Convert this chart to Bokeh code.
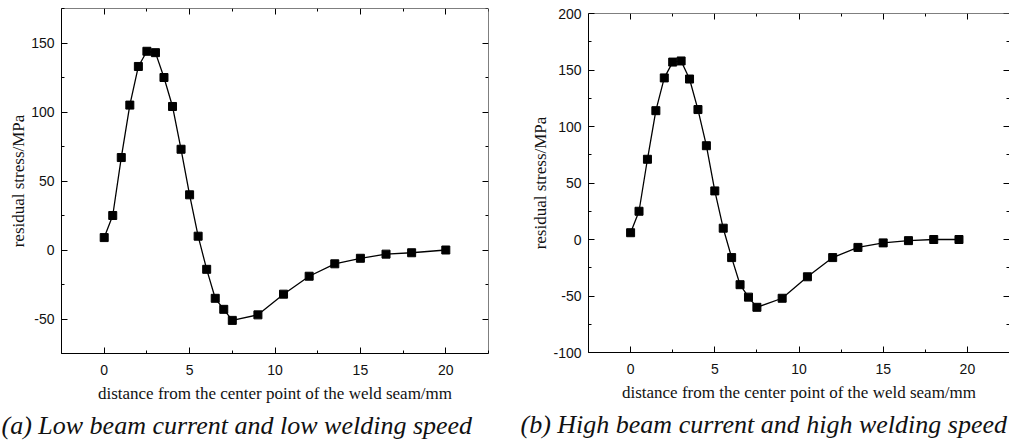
from bokeh.plotting import figure
from bokeh.layouts import row
from bokeh.models import LinearAxis, FixedTicker, Range1d, Title
from bokeh.embed import file_html
from bokeh.resources import INLINE

# ---- data ----
x_a = [0, 0.5, 1, 1.5, 2, 2.5, 3, 3.5, 4, 4.5, 5, 5.5, 6, 6.5, 7, 7.5, 9, 10.5, 12, 13.5, 15, 16.5, 18, 20]
y_a = [9, 25, 67, 105, 133, 144, 143, 125, 104, 73, 40, 10, -14, -35, -43, -51, -47, -32, -19, -10, -6, -3, -2, 0]

x_b = [0, 0.5, 1, 1.5, 2, 2.5, 3, 3.5, 4, 4.5, 5, 5.5, 6, 6.5, 7, 7.5, 9, 10.5, 12, 13.5, 15, 16.5, 18, 19.5]
y_b = [6, 25, 71, 114, 143, 157, 158, 142, 115, 83, 43, 10, -16, -40, -51, -60, -52, -33, -16, -7, -3, -1, 0, 0]

x_ticks = [0, 5, 10, 15, 20]
x_minor = [-2.5, 2.5, 7.5, 12.5, 17.5, 22.5]
y_ticks_a = [-50, 0, 50, 100, 150]
y_minor_a = [-75, -25, 25, 75, 125, 175]
y_ticks_b = [-100, -50, 0, 50, 100, 150, 200]
y_minor_b = [-75, -25, 25, 75, 125, 175]

x_label = "distance from the center point of the weld seam/mm"
y_label = "residual stress/MPa"
caption_a = "(a) Low beam current and low welding speed"
caption_b = "(b) High beam current and high welding speed"

SANS = "Liberation Sans"
SERIF = "Liberation Serif"


def style_axis(ax, labels=True):
    ax.axis_line_color = "black"
    ax.axis_line_width = 1
    ax.major_tick_line_color = "black"
    ax.minor_tick_line_color = "black"
    ax.major_tick_in = 6
    ax.major_tick_out = 0
    ax.minor_tick_in = 3
    ax.minor_tick_out = 0
    if labels:
        ax.major_label_text_font = SANS
        ax.major_label_text_font_size = "14px"
        ax.major_label_text_color = "#111111"
        ax.major_label_standoff = 7
        ax.axis_label_text_font = SERIF
        ax.axis_label_text_font_size = "17px"
        ax.axis_label_text_font_style = "normal"
        ax.axis_label_text_color = "#111111"
    else:
        ax.major_label_text_color = None
        ax.major_label_standoff = 0


def make_panel(xs, ys, y_ticks, y_minor, y_lo, y_hi, width, mb,
               caption, cap_offset, right_line=True):
    p = figure(width=width, height=443,
               x_range=Range1d(-2.5, 22.5), y_range=Range1d(y_lo, y_hi),
               output_backend="svg", toolbar_location=None,
               min_border_left=mb[0], min_border_right=mb[1],
               min_border_top=mb[2], min_border_bottom=mb[3])
    p.frame_align = False
    p.grid.visible = False
    p.outline_line_color = None
    p.background_fill_color = "white"
    p.border_fill_color = "white"

    p.xaxis.ticker = FixedTicker(ticks=x_ticks, minor_ticks=x_minor)
    p.yaxis.ticker = FixedTicker(ticks=y_ticks, minor_ticks=y_minor)
    for ax in p.xaxis:
        style_axis(ax)
        ax.major_label_standoff = 11
        ax.axis_label = x_label
        ax.axis_label_standoff = 6
    for ax in p.yaxis:
        style_axis(ax)
        ax.major_label_overrides = {t: str(t) for t in y_ticks if t < 0}
        ax.axis_label = y_label
        ax.axis_label_standoff = 0

    top = LinearAxis(ticker=FixedTicker(ticks=x_ticks, minor_ticks=x_minor), fixed_location=y_hi)
    style_axis(top, labels=False)
    p.add_layout(top, "above")

    right = LinearAxis(ticker=FixedTicker(ticks=y_ticks, minor_ticks=y_minor), fixed_location=22.5)
    style_axis(right, labels=False)
    if not right_line:
        right.axis_line_color = None
    p.add_layout(right, "right")

    p.line(xs, ys, line_color="black", line_width=1.3)
    p.scatter(xs, ys, marker="square", size=8, fill_color="black", line_color="black")

    cap = Title(text=caption, align="left", offset=cap_offset,
                text_font=SERIF, text_font_size="26px", text_font_style="italic",
                text_color="#111111", standoff=7)
    p.add_layout(cap, "below")
    return p


pa = make_panel(x_a, y_a, y_ticks_a, y_minor_a, -75, 175, 504, (61, 16, 8, 90),
                caption_a, -60, right_line=True)
pb = make_panel(x_b, y_b, y_ticks_b, y_minor_b, -100, 200, 505, (84, 0, 13, 91),
                caption_b, -68, right_line=False)

layout = row(pa, pb)
open("out.html", "w").write(file_html(layout, INLINE))
